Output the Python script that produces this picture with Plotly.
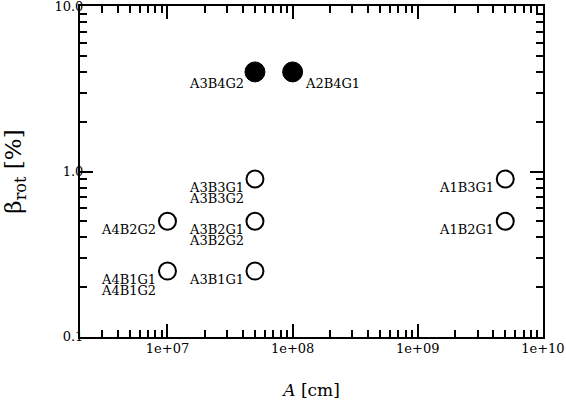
import numpy as np
import plotly.graph_objects as go

# open circles
x_open = [1e7, 1e7, 5e7, 5e7, 5e7, 5e9, 5e9]
y_open = [0.5, 0.25, 0.9, 0.5, 0.25, 0.9, 0.5]
labels_open = [
    ['A4B2G2'],
    ['A4B1G1', 'A4B1G2'],
    ['A3B3G1', 'A3B3G2'],
    ['A3B2G1', 'A3B2G2'],
    ['A3B1G1'],
    ['A1B3G1'],
    ['A1B2G1'],
]

# filled circles
x_fill = [5e7, 1e8]
y_fill = [4.0, 4.0]
labels_fill = [['A3B4G2'], ['A2B4G1']]
side_fill = ['left', 'right']

x_tickvals = [1e7, 1e8, 1e9, 1e10]
x_ticktext = ['1e+07', '1e+08', '1e+09', '1e+10']
y_tickvals = [0.1, 1.0, 10.0]
y_ticktext = ['0.1', '1.0', '10.0']

FONT = 'DejaVu Serif'

fig = go.Figure()

fig.add_trace(
    go.Scatter(
        x = x_open,
        y = y_open,
        mode = 'markers',
        marker = dict(size = 17, color = 'white', line = dict(color = 'black', width = 2)),
        showlegend = False
    )
)

fig.add_trace(
    go.Scatter(
        x = x_fill,
        y = y_fill,
        mode = 'markers',
        marker = dict(size = 20, color = 'black', line = dict(color = 'black', width = 1)),
        showlegend = False
    )
)

# point labels, one annotation per text line
def add_labels(xs, ys, labels, sides, dy):
    for xv, yv, lines, side in zip(xs, ys, labels, sides):
        for k, line in enumerate(lines):
            fig.add_annotation(
                x = np.log10(xv),
                y = np.log10(yv),
                text = line,
                showarrow = False,
                xanchor = 'right' if side == 'left' else 'left',
                yanchor = 'middle',
                xshift = -9 if side == 'left' else 10,
                yshift = dy - 11 * k,
                font = dict(family = FONT, size = 13, color = 'black')
            )

add_labels(x_open, y_open, labels_open, ['left'] * len(x_open), -8)
add_labels(x_fill, y_fill, labels_fill, side_fill, -12)

axis_common = dict(
    type = 'log',
    automargin = False,
    showline = True,
    linecolor = 'black',
    linewidth = 2,
    mirror = 'allticks',
    ticks = 'inside',
    ticklen = 13,
    tickwidth = 1.5,
    tickcolor = 'black',
    showgrid = False,
    zeroline = False,
    ticklabeloverflow = 'allow',
    tickfont = dict(family = FONT, size = 13, color = 'black'),
    minor = dict(ticks = 'inside', ticklen = 7, tickwidth = 1.5, tickcolor = 'black',
                 dtick = 'D1', showgrid = False),
)

fig.update_layout(
    width = 566,
    height = 400,
    margin = dict(l = 80, r = 23, t = 6, b = 63),
    plot_bgcolor = 'white',
    paper_bgcolor = 'white',
    font = dict(family = FONT),
    xaxis = dict(
        axis_common,
        range = [np.log10(2e6), 10.0005],
        tickvals = x_tickvals,
        ticktext = x_ticktext,
        ticklabelstandoff = -2,
        title = dict(text = '<i>A</i> [cm]', font = dict(family = FONT, size = 17, color = 'black'),
                     standoff = 30),
    ),
    yaxis = dict(
        axis_common,
        range = [-1.0005, 1.0005],
        tickvals = y_tickvals,
        ticktext = y_ticktext,
        ticklabelstandoff = -8,
        title = dict(text = 'β<sub>rot</sub> [%]', font = dict(family = FONT, size = 23, color = 'black'),
                     standoff = 32),
    ),
)

# drop the page's default body margin so the figure sits at the window origin
fig.write_html(
    'out.html',
    config = {'displayModeBar': False},
    post_script = "document.body.style.margin = '0';"
)
